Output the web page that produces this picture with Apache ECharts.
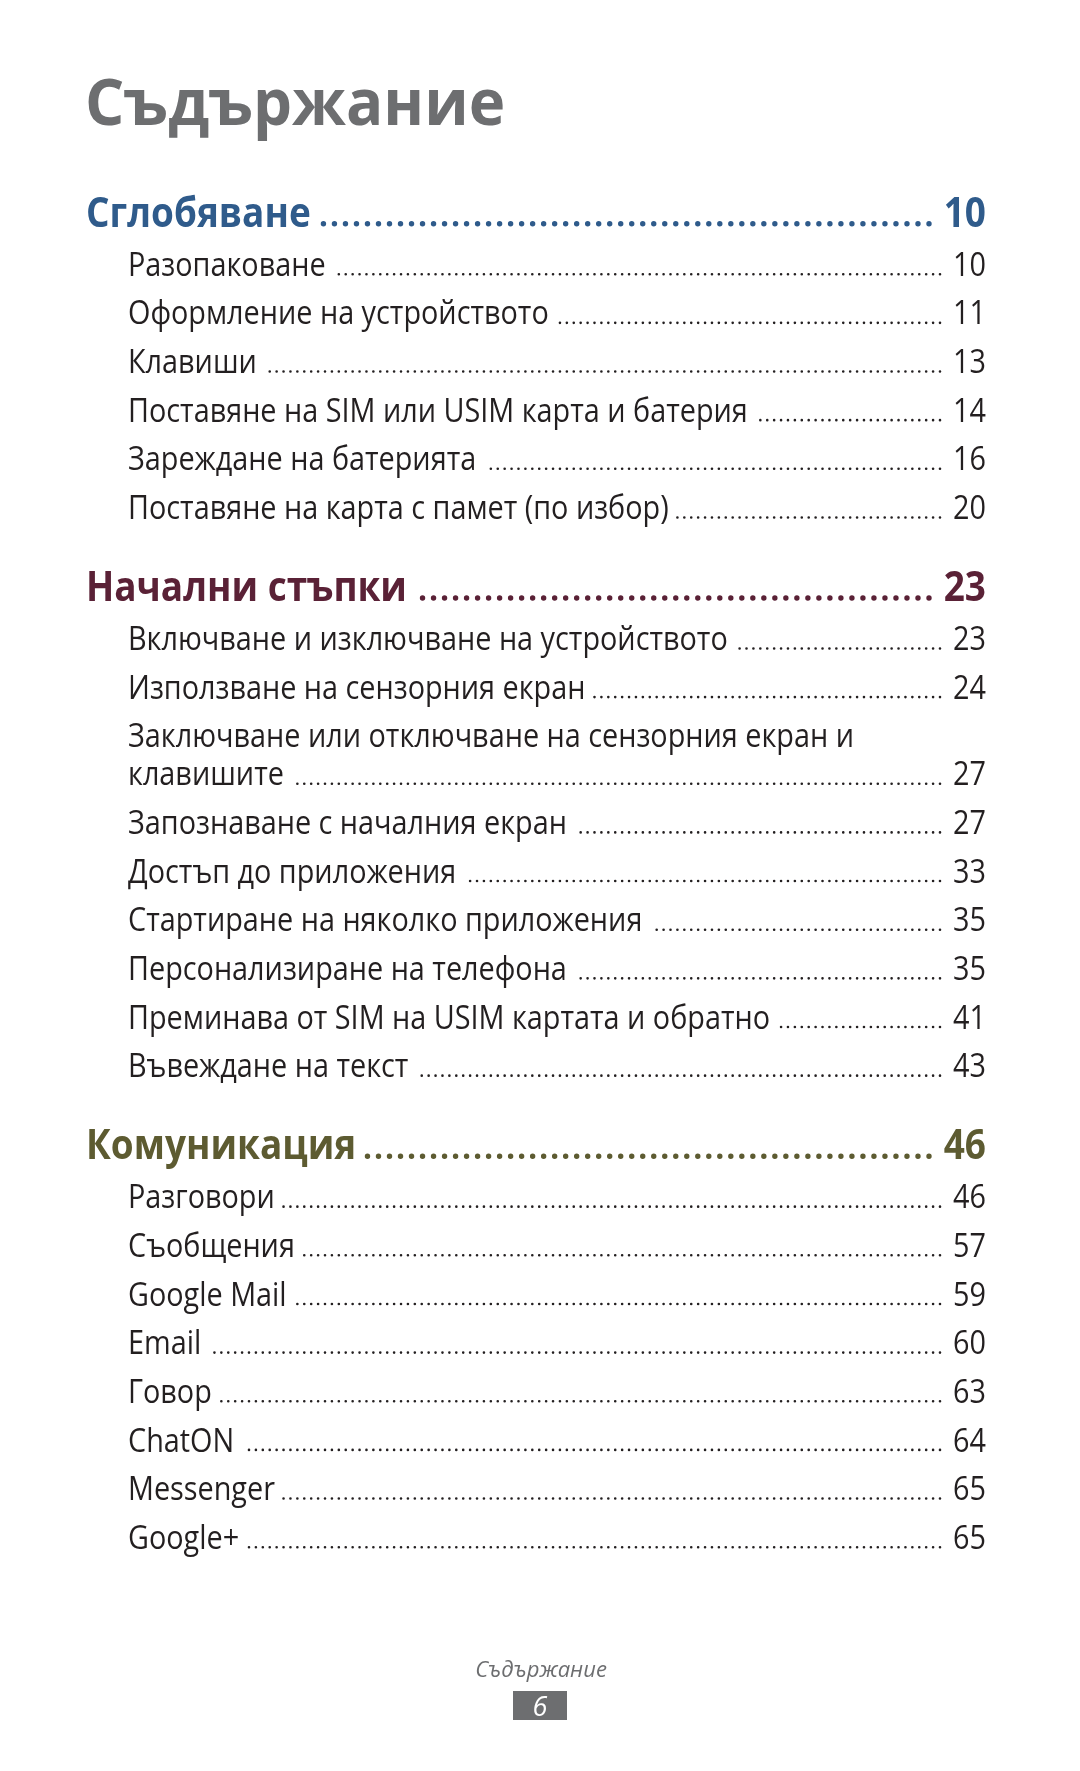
<!DOCTYPE html>
<html><head><meta charset="utf-8">
<script src="https://cdn.jsdelivr.net/npm/echarts@6/dist/echarts.min.js"></script>
<style>html,body{margin:0;padding:0;background:#fff}#c{width:1080px;height:1771px}</style>
</head><body><div id="c"></div>
<script>
// ---------- content ----------
const pageTitle = 'Съдържание';
const sectionTitles = ['Сглобяване', 'Начални стъпки', 'Комуникация'];
const sectionPages = ['10', '23', '46'];

const assemblyEntries = ['Разопаковане', 'Оформление на устройството', 'Клавиши',
  'Поставяне на SIM или USIM карта и батерия', 'Зареждане на батерията',
  'Поставяне на карта с памет (по избор)'];
const assemblyPages = ['10', '11', '13', '14', '16', '20'];

const startEntries = ['Включване и изключване на устройството', 'Използване на сензорния екран',
  'Заключване или отключване на сензорния екран и\nклавишите', 'Запознаване с началния екран',
  'Достъп до приложения', 'Стартиране на няколко приложения', 'Персонализиране на телефона',
  'Преминава от SIM на USIM картата и обратно', 'Въвеждане на текст'];
const startPages = ['23', '24', '27', '27', '33', '35', '35', '41', '43'];

const commEntries = ['Разговори', 'Съобщения', 'Google Mail', 'Email', 'Говор', 'ChatON', 'Messenger', 'Google+'];
const commPages = ['46', '57', '59', '60', '63', '64', '65', '65'];

const footerLabel = 'Съдържание';
const footerPage = '6';

// ---------- styles / layout constants ----------
const sectionColors = ['#2f5b8b', '#5a2136', '#5d5b31'];
const entryColor = '#231f20';
const greyColor = '#6d6e70';
const FONT = '"Open Sans", "Noto Sans", sans-serif';
const MID = 0.29;           // text middle offset above baseline (em)
const secStyle = { size: 42, weight: 700, sx: 0.88, dot: 5.4, step: 11, gap: 2, leaderEnd: 929, indent: 86 };
const entStyle = { size: 32, weight: 400, sx: 0.90, dot: 2.6, step: 6.9, gap: 7, leaderEnd: 940, indent: 128 };
const RIGHT = 986;
const FIRST = 227, HEAD_TO_ENTRY = 49, ENTRY_STEP = 48.65, WRAP_STEP = 38, SECTION_GAP = 82;

const groups = [[assemblyEntries, assemblyPages], [startEntries, startPages], [commEntries, commPages]];
const rows = [];
let y = FIRST;
groups.forEach((g, si) => {
  if (si > 0) y += SECTION_GAP;
  rows.push({ kind: 'section', text: sectionTitles[si], page: sectionPages[si], color: sectionColors[si], y: y });
  y += HEAD_TO_ENTRY;
  g[0].forEach((t, i) => {
    if (i > 0) y += ENTRY_STEP;
    rows.push({ kind: 'entry', text: t, page: g[1][i], color: entryColor, y: y });
    y += (t.split('\n').length - 1) * WRAP_STEP;
  });
});

const mctx = document.createElement('canvas').getContext('2d');
function measure(text, st) {
  mctx.font = st.weight + ' ' + st.size + 'px ' + FONT;
  return mctx.measureText(text).width * st.sx;
}

function renderItem(params, api) {
  const r = rows[api.value(2)];
  const st = r.kind === 'section' ? secStyle : entStyle;
  const p = api.coord([api.value(0), api.value(1)]);
  const rightX = api.coord([RIGHT, 0])[0];
  const leaderX = api.coord([st.leaderEnd, 0])[0];
  const font = st.weight + ' ' + st.size + 'px ' + FONT;
  const lines = r.text.split('\n');
  const children = [];
  let lastY = p[1];
  lines.forEach((ln, i) => {
    const by = p[1] + i * WRAP_STEP;
    lastY = by;
    children.push({ type: 'text', x: p[0], y: by - st.size * MID, scaleX: st.sx,
      style: { text: ln, font: font, fill: r.color, align: 'left', verticalAlign: 'middle' } });
  });
  children.push({ type: 'text', x: rightX, y: lastY - st.size * MID, scaleX: st.sx,
    style: { text: r.page, font: font, fill: r.color, align: 'right', verticalAlign: 'middle' } });
  const startX = p[0] + measure(lines[lines.length - 1], st) + st.gap + st.dot / 2;
  const dy = lastY - st.dot / 2 - 0.5;
  children.push({ type: 'line', shape: { x1: leaderX, y1: dy, x2: startX, y2: dy },
    style: { stroke: r.color, lineWidth: st.dot, lineDash: [0.01, st.step], lineCap: 'round' } });
  return { type: 'group', children: children };
}

const chart = echarts.init(document.getElementById('c'), null, { renderer: 'canvas' });
chart.setOption({
  animation: false,
  backgroundColor: '#ffffff',
  grid: { left: 0, right: 0, top: 0, bottom: 0 },
  xAxis: { type: 'value', min: 0, max: 1080, show: false },
  yAxis: { type: 'value', min: 0, max: 1771, inverse: true, show: false },
  graphic: [
    { type: 'text', x: 85, y: 125 - 65 * MID, scaleX: 0.95,
      style: { text: pageTitle, font: '700 65px ' + FONT, fill: greyColor, align: 'left', verticalAlign: 'middle' } },
    { type: 'text', x: 541, y: 1677 - 22 * MID,
      style: { text: footerLabel, font: 'italic 400 22px ' + FONT, fill: greyColor, align: 'center', verticalAlign: 'middle' } },
    { type: 'rect', shape: { x: 513, y: 1691, width: 54, height: 29 }, style: { fill: greyColor } },
    { type: 'text', x: 540, y: 1716 - 27 * MID,
      style: { text: footerPage, font: 'italic 400 27px ' + FONT, fill: '#ffffff', align: 'center', verticalAlign: 'middle' } }
  ],
  series: [{
    type: 'custom',
    coordinateSystem: 'cartesian2d',
    renderItem: renderItem,
    data: rows.map((r, i) => [r.kind === 'section' ? secStyle.indent : entStyle.indent, r.y, i]),
    silent: true
  }]
});
</script></body></html>
